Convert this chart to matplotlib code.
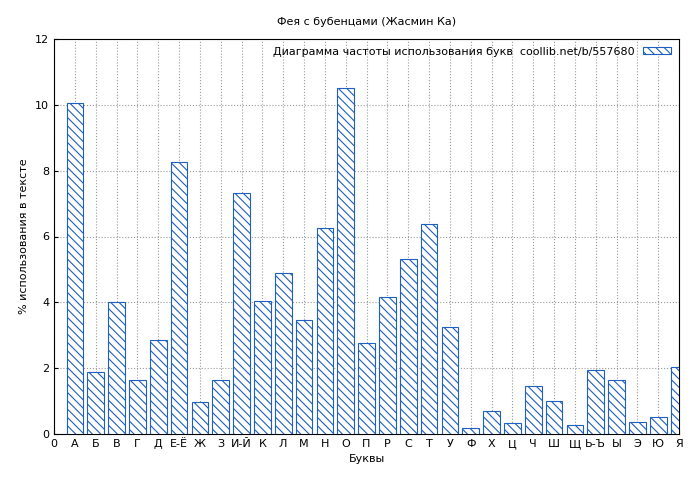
import matplotlib.pyplot as plt

plt.rcParams['hatch.color'] = '#1f5fbf'
plt.rcParams['hatch.linewidth'] = 0.8

letters = ["А", "Б", "В", "Г", "Д", "Е-Ё", "Ж", "З", "И-Й", "К", "Л", "М", "Н", "О", "П",
           "Р", "С", "Т", "У", "Ф", "Х", "Ц", "Ч", "Ш", "Щ", "Ь-Ъ", "Ы", "Э", "Ю", "Я"]
freq = [10.05, 1.88, 4.02, 1.65, 2.85, 8.25, 0.97, 1.65, 7.32, 4.05, 4.88, 3.45, 6.25, 10.52, 2.75,
        4.15, 5.32, 6.38, 3.25, 0.18, 0.70, 0.32, 1.45, 1.00, 0.27, 1.95, 1.65, 0.35, 0.52, 2.05]

fig = plt.figure(figsize=(7, 4.8), dpi=100)
ax = fig.add_axes([54/700, 1-434/480, 625/700, 395/480])

pos = list(range(1, len(letters) + 1))
ax.bar(pos, freq, width=0.8, facecolor='white', edgecolor='#1f5fbf', hatch='\\\\\\\\',
       linewidth=0.8, label="Диаграмма частоты использования букв  coollib.net/b/557680", zorder=3)

ax.set_xlim(0, 30)
ax.set_ylim(0, 12)
ax.set_xticks([0] + pos)
ax.set_xticklabels(["0"] + letters, fontsize=8)
ax.set_yticks(range(0, 13, 2))
ax.tick_params(axis='y', labelsize=8)
ax.tick_params(direction='in', length=3)
ax.grid(True, linestyle=':', color='#999999', linewidth=0.8, zorder=0)
ax.set_xlabel("Буквы", fontsize=8)
ax.set_ylabel("% использования в тексте", fontsize=8)
ax.set_title("Фея с бубенцами (Жасмин Ка)", fontsize=8, pad=10)
leg = ax.legend(loc='upper right', fontsize=8, frameon=False, markerfirst=False,
                handlelength=2.5, handleheight=0.6, borderaxespad=0.3)

fig.savefig("out.png", dpi=100)
